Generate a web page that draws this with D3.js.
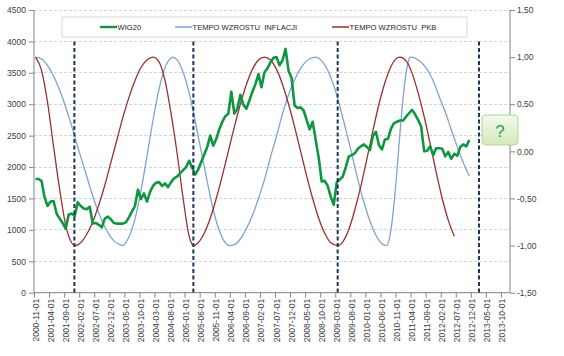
<!DOCTYPE html>
<html><head><meta charset="utf-8">
<script src="https://cdn.jsdelivr.net/npm/d3@7"></script>
<style>
html,body{margin:0;padding:0;background:#fff;}
svg{display:block;font-family:"Liberation Sans",Arial,sans-serif;}
</style></head>
<body>
<svg id="chart" width="564" height="356"></svg>
<script>
// ---------- DATA ----------
const firstMonth = "2000-11-01";
const lastMonth = "2013-12-01";
const tickLabels = ["2000-11-01","2001-04-01","2001-09-01","2002-02-01","2002-07-01","2002-12-01","2003-05-01","2003-10-01","2004-03-01","2004-08-01","2005-01-01","2005-06-01","2005-11-01","2006-04-01","2006-09-01","2007-02-01","2007-07-01","2007-12-01","2008-05-01","2008-10-01","2009-03-01","2009-08-01","2010-01-01","2010-06-01","2010-11-01","2011-04-01","2011-09-01","2012-02-01","2012-07-01","2012-12-01","2013-05-01","2013-10-01"];
const leftTicks = [0,500,1000,1500,2000,2500,3000,3500,4000,4500];
const rightTicks = [-1.5,-1,-0.5,0,0.5,1,1.5];
const seriesNames = ["WIG20","TEMPO WZROSTU  INFLACJI","TEMPO WZROSTU  PKB"];

// WIG20 monthly from 2000-11
const wig20 = [1810,1810,1780,1520,1380,1450,1460,1260,1180,1110,1020,1240,1260,1220,1440,1380,1340,1330,1370,1100,
1110,1080,1040,1180,1210,1170,1110,1100,1100,1100,1120,1200,1290,1380,1640,1490,1580,1450,1600,1700,
1750,1760,1700,1740,1680,1760,1820,1850,1900,1950,2000,2100,1990,1880,1960,2080,2200,2320,2500,2340,
2450,2600,2720,2810,2850,3200,2850,2930,3150,2990,2930,3060,3200,3320,3480,3270,3510,3570,3670,3740,
3750,3620,3700,3880,3530,3420,2980,2940,2950,2900,2750,2600,2720,2430,2150,1770,1780,1700,1530,1400,
1760,1800,1850,2000,2170,2190,2220,2290,2330,2360,2320,2270,2500,2560,2350,2280,2440,2450,2610,2700,
2720,2740,2740,2800,2860,2910,2840,2750,2650,2250,2260,2330,2190,2300,2300,2290,2170,2240,2130,2210,
2180,2320,2360,2330,2430];

const inflDates = ["2000-11-01","2001-01-01","2001-03-01","2001-05-01","2001-07-01","2001-09-01","2001-11-01","2002-01-01","2002-03-01","2002-05-01","2002-07-01","2002-09-01","2002-11-01","2003-01-01","2003-03-01","2003-04-01","2003-06-01","2003-08-01","2003-10-01","2003-12-01","2004-02-01","2004-04-01","2004-06-01","2004-08-01","2004-08-16","2004-10-01","2004-12-01","2005-02-01","2005-04-01","2005-06-01","2005-08-01","2005-10-01","2005-12-01","2006-02-01","2006-03-16","2006-05-01","2006-07-01","2006-09-01","2006-11-01","2007-01-01","2007-03-01","2007-05-01","2007-07-01","2007-09-01","2007-11-01","2008-01-01","2008-03-01","2008-05-01","2008-07-01","2008-08-01","2008-10-01","2008-12-01","2009-02-01","2009-04-01","2009-06-01","2009-08-01","2009-10-01","2009-12-01","2010-02-01","2010-04-01","2010-06-01","2010-07-16","2010-09-01","2010-10-01","2010-11-01","2010-12-01","2011-01-01","2011-02-01","2011-03-01","2011-03-16","2011-05-01","2011-07-01","2011-09-01","2011-11-01","2012-01-01","2012-03-01","2012-05-01","2012-07-01","2012-09-01","2012-11-01"];
const inflValues = [1.00,0.98,0.91,0.80,0.65,0.47,0.27,0.05,-0.16,-0.37,-0.57,-0.73,-0.86,-0.95,-0.99,-1.00,-0.91,-0.72,-0.42,-0.05,0.33,0.66,0.89,0.99,1.00,0.97,0.84,0.62,0.32,0.00,-0.32,-0.62,-0.84,-0.97,-1.00,-0.99,-0.93,-0.82,-0.68,-0.50,-0.30,-0.06,0.16,0.40,0.60,0.76,0.88,0.96,0.995,1.00,0.96,0.86,0.70,0.48,0.23,-0.03,-0.30,-0.54,-0.74,-0.89,-0.98,-1.00,-0.83,-0.56,-0.20,0.20,0.56,0.83,0.98,1.00,0.99,0.945,0.87,0.75,0.58,0.42,0.23,0.05,-0.12,-0.26];

const pkbDates = ["2000-11-01","2001-01-01","2001-03-01","2001-05-01","2001-07-01","2001-09-01","2001-11-01","2001-12-01","2002-02-01","2002-04-01","2002-06-01","2002-08-01","2002-10-01","2002-12-01","2003-02-01","2003-04-01","2003-06-01","2003-08-01","2003-10-01","2003-12-01","2004-02-01","2004-04-01","2004-06-01","2004-08-01","2004-10-01","2004-12-01","2005-02-01","2005-03-13","2005-05-01","2005-07-01","2005-09-01","2005-11-01","2006-01-01","2006-03-01","2006-05-01","2006-07-01","2006-09-01","2006-11-01","2007-01-01","2007-03-01","2007-05-01","2007-07-01","2007-09-01","2007-11-01","2008-01-01","2008-03-01","2008-05-01","2008-07-01","2008-09-01","2008-11-01","2009-01-01","2009-03-13","2009-05-01","2009-07-01","2009-09-01","2009-11-01","2010-01-01","2010-03-01","2010-05-01","2010-07-01","2010-09-01","2010-11-01","2010-12-01","2011-02-01","2011-04-01","2011-06-01","2011-08-01","2011-10-01","2011-12-01","2012-02-01","2012-04-01","2012-06-01"];
const pkbValues = [1.00,0.86,0.52,0.05,-0.40,-0.78,-0.97,-1.00,-0.97,-0.88,-0.75,-0.57,-0.36,-0.12,0.12,0.36,0.57,0.75,0.89,0.97,1.00,0.95,0.75,0.40,-0.02,-0.50,-0.90,-1.00,-0.97,-0.87,-0.71,-0.50,-0.26,0.00,0.26,0.50,0.71,0.87,0.97,1.00,0.97,0.87,0.71,0.50,0.26,0.00,-0.26,-0.50,-0.71,-0.87,-0.97,-1.00,-0.96,-0.83,-0.62,-0.37,-0.08,0.22,0.50,0.73,0.90,0.99,1.00,0.96,0.83,0.62,0.37,0.08,-0.22,-0.50,-0.73,-0.90];

const markerDates = ["2001-11-28","2005-03-13","2009-03-10","2013-02-07"];

// ---------- HELPERS ----------
function monthIndex(s){
  const p = s.split("-").map(Number);
  const f = d3.timeParse("%Y-%m-%d");
  return d3.timeMonth.count(f(firstMonth), d3.timeMonth.floor(f(s))) + (p[2]-1)/30;
}
const months = d3.timeMonth.range(d3.timeParse("%Y-%m-%d")(firstMonth), d3.timeMonth.offset(d3.timeParse("%Y-%m-%d")(lastMonth),1));

// ---------- LAYOUT ----------
const svg = d3.select("#chart");
const L = 34, R = 510, T = 10, B = 292.7;
const x = d3.scaleLinear().domain([-0.5, months.length - 0.5]).range([L, R]);
const yL = d3.scaleLinear().domain([0, 4500]).range([B, T]);
const yR = d3.scaleLinear().domain([-1.5, 1.5]).range([B, T]);
const axisColor = "#868686", textColor = "#404040";
const fs = "8.5px";

// gridlines
svg.append("g").selectAll("line").data(leftTicks).join("line")
  .attr("x1", L).attr("x2", R).attr("y1", d=>yL(d)).attr("y2", d=>yL(d))
  .attr("stroke", "#d4d4d4").attr("stroke-width", 1).attr("stroke-dasharray", "3,2")
  .attr("shape-rendering","crispEdges");

// left axis
const gL = svg.append("g").attr("transform", `translate(${L},0)`)
  .call(d3.axisLeft(yL).tickValues(leftTicks).tickSize(5).tickPadding(3).tickFormat(d3.format("d")));
// right axis
const gR = svg.append("g").attr("transform", `translate(${R},0)`)
  .call(d3.axisRight(yR).tickValues(rightTicks).tickSize(5).tickPadding(2)
    .tickFormat(d => d3.format(".2f")(d).replace(".", ",").replace("−","-")));
// bottom axis: ticks on category boundaries, labels centred on categories
const tickIdx = tickLabels.map(monthIndex);
const gB = svg.append("g").attr("transform", `translate(0,${B})`)
  .call(d3.axisBottom(x).tickValues(tickIdx.map(i => i - 0.5)).tickSize(5).tickFormat(""));
svg.append("g").selectAll("text").data(tickLabels).join("text")
  .attr("transform", d => `translate(${x(monthIndex(d))+3},${B+6}) rotate(-90)`)
  .attr("text-anchor","end").attr("font-size", fs).attr("fill", textColor).text(d => d);

[gL,gR,gB].forEach(g => {
  g.selectAll(".domain").attr("stroke", axisColor);
  g.selectAll(".tick line").attr("stroke", axisColor);
  g.selectAll("text").attr("font-size", fs).attr("fill", textColor).attr("font-family","Liberation Sans, Arial, sans-serif");
});
gB.selectAll(".domain").attr("d", `M${L},0H${R}`);
gL.selectAll(".domain").attr("d", `M0,${T}V${B}`);
gR.selectAll(".domain").attr("d", `M0,${T}V${B}`);

// lines
const mk = (dates, vals) => dates.map((d,i) => [monthIndex(d), vals[i]]);
const lineR = d3.line().x(d => x(d[0])).y(d => yR(d[1])).curve(d3.curveMonotoneX);
svg.append("path").datum(mk(inflDates, inflValues)).attr("d", lineR)
  .attr("fill","none").attr("stroke","#7ea3d4").attr("stroke-width",1.3);
svg.append("path").datum(mk(pkbDates, pkbValues)).attr("d", lineR)
  .attr("fill","none").attr("stroke","#9b2f32").attr("stroke-width",1.3);
const lineW = d3.line().x((d,i) => x(i)).y(d => yL(d));
svg.append("path").datum(wig20).attr("d", lineW)
  .attr("fill","none").attr("stroke","#0f9640").attr("stroke-width",2.6).attr("stroke-linejoin","round");

// vertical dashed markers
svg.append("g").selectAll("line").data(markerDates).join("line")
  .attr("x1", d => x(monthIndex(d))).attr("x2", d => x(monthIndex(d)))
  .attr("y1", yL(4000)).attr("y2", B)
  .attr("stroke","#1b3556").attr("stroke-width",2).attr("stroke-dasharray","4,2.5");

// legend
const lg = svg.append("g");
lg.append("rect").attr("x",62).attr("y",17).attr("width",405).attr("height",20)
  .attr("fill","#fff").attr("stroke","#d9d9d9").attr("stroke-width",1);
const legendItems = [
  {name: seriesNames[0], color:"#0f9640", w:2.4, x0:100},
  {name: seriesNames[1], color:"#7ea3d4", w:1.5, x0:175},
  {name: seriesNames[2], color:"#9b2f32", w:1.5, x0:332}
];
legendItems.forEach(it => {
  lg.append("line").attr("x1", it.x0).attr("x2", it.x0+17).attr("y1", 27).attr("y2", 27)
    .attr("stroke", it.color).attr("stroke-width", it.w);
  lg.append("text").attr("x", it.x0+17.5).attr("y", 29.8).attr("font-size","7.6px")
    .attr("fill","#262626").style("white-space","pre").text(it.name);
});

// question box
const defs = svg.append("defs");
const gr = defs.append("linearGradient").attr("id","qg").attr("x1",0).attr("x2",0).attr("y1",0).attr("y2",1);
gr.append("stop").attr("offset","0%").attr("stop-color","#f3faec");
gr.append("stop").attr("offset","100%").attr("stop-color","#d3eabc");
svg.append("rect").attr("x",482).attr("y",115).attr("width",36).attr("height",30).attr("rx",4)
  .attr("fill","url(#qg)").attr("stroke","#b3d39a").attr("stroke-width",1);
svg.append("text").attr("x",500).attr("y",137).attr("text-anchor","middle")
  .attr("font-size","17px").attr("fill","#2e9d52").text("?");
</script>
</body></html>
